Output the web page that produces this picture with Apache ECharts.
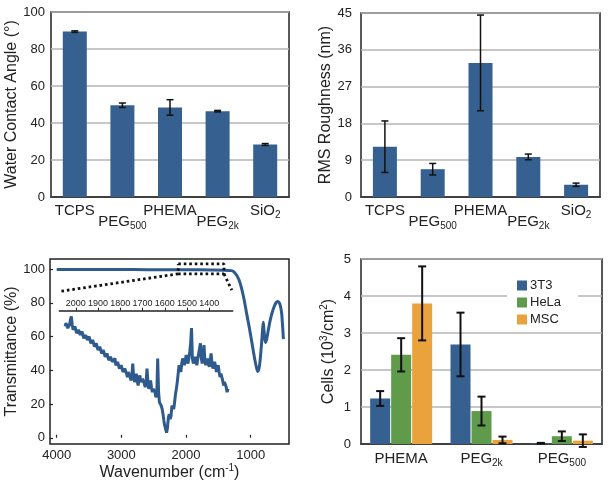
<!DOCTYPE html>
<html>
<head>
<meta charset="utf-8">
<script src="https://cdn.jsdelivr.net/npm/echarts@6/dist/echarts.min.js"></script>
<style>
html,body{margin:0;padding:0;background:#fff;}
#c{width:609px;height:488px;}
</style>
</head>
<body>
<div id="c"></div>
<script>
// ---------- DATA ----------
const surfaceCats = ['TCPS', 'PEG_500', 'PHEMA', 'PEG_2k', 'SiO_2'];
const contactAngle = [89.4, 49.6, 48.4, 46.4, 28.4];
const contactAngleErr = [0.4, 1.2, 4.2, 0.4, 0.5];
const roughness = [12.3, 6.8, 32.8, 9.8, 3.0];
const roughnessErr = [6.3, 1.4, 11.7, 0.7, 0.4];

const angleTicks = [0, 20, 40, 60, 80, 100];
const roughTicks = [0, 9, 18, 27, 36, 45];

const ftirWavenumber = [4000, 3600, 3200, 2800, 2400, 2000, 1600, 1400, 1300, 1260, 1220, 1180, 1140, 1100, 1060, 1020, 980, 940, 910, 892, 875, 860, 845, 830, 815, 805, 795, 782, 768, 750, 725, 700, 670, 640, 610, 585, 560, 540, 522, 510, 500, 495];
const ftirTransmittance = [99.8, 99.8, 99.7, 99.7, 99.6, 99.6, 99.5, 99.4, 99.1, 98.4, 96.5, 93.5, 88.5, 81.5, 73, 65, 56, 47, 41.5, 39.3, 40.5, 44, 50, 57, 65, 68.5, 64, 58.5, 56.5, 59, 64.5, 69.5, 74, 77.5, 80, 80.8, 80.2, 78, 74, 68, 62, 58.5];

const insetWavenumber = [2048, 2044, 2040, 2036, 2032, 2028, 2024, 2020, 2016, 2012, 2008, 2004, 2000, 1996, 1992, 1988, 1984, 1980, 1976, 1972, 1968, 1964, 1960, 1956, 1952, 1948, 1944, 1940, 1936, 1932, 1928, 1924, 1920, 1916, 1912, 1908, 1904, 1900, 1896, 1892, 1888, 1884, 1880, 1876, 1872, 1868, 1864, 1860, 1856, 1852, 1848, 1844, 1840, 1836, 1832, 1828, 1824, 1820, 1816, 1812, 1808, 1804, 1800, 1796, 1792, 1788, 1784, 1780, 1776, 1772, 1768, 1764, 1760, 1756, 1752, 1748, 1744, 1740, 1736, 1732, 1728, 1724, 1720, 1716, 1712, 1708, 1704, 1700, 1696, 1692, 1688, 1684, 1680, 1676, 1672, 1668, 1664, 1660, 1656, 1652, 1648, 1644, 1640, 1636, 1632, 1628, 1624, 1620, 1616, 1612, 1608, 1604, 1600, 1596, 1592, 1588, 1584, 1580, 1576, 1572, 1568, 1564, 1560, 1556, 1552, 1548, 1544, 1540, 1536, 1532, 1528, 1524, 1520, 1516, 1512, 1508, 1504, 1500, 1496, 1492, 1488, 1484, 1480, 1476, 1472, 1468, 1464, 1460, 1456, 1452, 1448, 1444, 1440, 1436, 1432, 1428, 1424, 1420, 1416, 1412, 1408, 1404, 1400, 1396, 1392, 1388, 1384, 1380, 1376, 1372, 1368, 1364, 1360, 1356, 1352, 1348, 1344, 1340, 1336, 1332, 1328, 1324, 1320, 1316];
const insetTransmittance = [66, 68, 69, 65, 64, 67, 70, 72, 67, 64, 63, 66, 66, 62, 61, 64, 65, 61, 60, 63, 63, 59, 58, 61, 62, 58, 57, 60, 60, 56, 55, 58, 58, 54, 53, 56, 56, 52, 51, 54, 55, 50, 49, 52, 52, 48, 47, 50, 50, 46, 45, 48, 49, 45, 44, 46, 47, 43, 42, 45, 45, 41, 40, 43, 43, 39, 38, 41, 42, 38, 36, 39, 40, 36, 34, 37, 44, 36, 33, 35, 38, 34, 31, 34, 37, 33, 32, 35, 36, 32, 30, 33, 41, 33, 29, 31, 34, 30, 27, 29, 30, 27, 24, 26, 47, 27, 21, 22, 19, 17, 14, 10, 7, 5, 3, 6, 12, 14, 11, 13, 19, 18, 17, 21, 26, 29, 33, 38, 43, 41, 39, 44, 47, 45, 43, 46, 49, 46, 44, 47, 51, 56, 65, 47, 44, 46, 48, 45, 43, 47, 50, 49, 56, 47, 44, 47, 55, 46, 43, 45, 47, 44, 42, 46, 50, 44, 41, 43, 45, 42, 39, 41, 43, 39, 36, 38, 39, 34, 31, 33, 34, 30, 27, 29];

const zoomBoxWn = [2120, 1413, 1413, 2120, 2120];
const zoomBoxT = [103.1, 103.1, 97.2, 97.2, 103.1];
const leftGuideWn = [2120, 3950];
const leftGuideT = [97.2, 86.8];
const rightGuideWn = [1413, 1292];
const rightGuideT = [97.2, 87.5];

const ftirYTicks = [0, 20, 40, 60, 80, 100];
const ftirXTicks = [1000, 2000, 3000, 4000];
const insetTicks = [1400, 1500, 1600, 1700, 1800, 1900, 2000];

const cellCats = ['PHEMA', 'PEG_2k', 'PEG_500'];
const cellSeriesNames = ['3T3', 'HeLa', 'MSC'];
const cells3T3 = [1.23, 2.69, 0.02];
const cells3T3Err = [0.2, 0.86, 0.01];
const cellsHeLa = [2.41, 0.89, 0.21];
const cellsHeLaErr = [0.45, 0.39, 0.13];
const cellsMSC = [3.80, 0.11, 0.09];
const cellsMSCErr = [1.0, 0.09, 0.17];
const cellTicks = [0, 1, 2, 3, 4, 5];

// ---------- STYLE ----------
const FONT = 'Liberation Sans, Arial, Helvetica, sans-serif';
const TXT = '#222';
const BLUE = '#35608f';
const GREEN = '#5f9b4b';
const ORANGE = '#e9a23c';
const LINEBLUE = '#2f5a8e';
const GRIDC = '#b4b4b4';
const plain = v => String(v);

function errData(vals, errs) {
  return vals.map((v, i) => [i, v - errs[i], v + errs[i]]);
}
function errRender(offset, half, lw) {
  return function (params, api) {
    const x = api.value(0), lo = api.value(1), hi = api.value(2);
    const p1 = api.coord([x, hi]);
    const p2 = api.coord([x, lo]);
    const cx = p1[0] + offset;
    const st = { stroke: '#111', lineWidth: lw };
    return {
      type: 'group',
      children: [
        { type: 'line', shape: { x1: cx, y1: p1[1], x2: cx, y2: p2[1] }, style: st },
        { type: 'line', shape: { x1: cx - half, y1: p1[1], x2: cx + half, y2: p1[1] }, style: st },
        { type: 'line', shape: { x1: cx - half, y1: p2[1], x2: cx + half, y2: p2[1] }, style: st }
      ]
    };
  };
}
function catFmt(staggered) {
  return function (v, i) {
    const p = v.split('_');
    const s = '{m|' + p[0] + '}' + (p[1] ? '{s|' + p[1] + '}' : '');
    return (staggered && i % 2 === 1) ? '{e| }\n' + s : s;
  };
}
const catRich = {
  m: { fontSize: 15, lineHeight: 11, color: TXT, fontFamily: FONT },
  s: { fontSize: 10, lineHeight: 11, color: TXT, fontFamily: FONT, padding: [9, 0, 0, 0] },
  e: { fontSize: 10, lineHeight: 11 }
};
const catRichD = {
  m: { fontSize: 15, lineHeight: 15, color: TXT, fontFamily: FONT },
  s: { fontSize: 10, lineHeight: 15, color: TXT, fontFamily: FONT, padding: [9, 0, 0, 0] }
};
const supRich = {
  a: { fontSize: 16, color: TXT, fontFamily: FONT, lineHeight: 16 },
  sup: { fontSize: 10, color: TXT, fontFamily: FONT, lineHeight: 16, padding: [0, 0, 9, 0] }
};
const frame = { show: true, borderColor: '#222', borderWidth: 1.5, backgroundColor: 'transparent' };

function catX(grid, cats, staggered, rich, margin) {
  return {
    type: 'category', gridIndex: grid, data: cats,
    axisLine: { show: true, lineStyle: { color: '#222', width: 1.5 } },
    axisTick: { show: false },
    axisLabel: { interval: 0, margin: margin, formatter: catFmt(staggered), rich: rich, lineHeight: 11 },
    splitLine: { show: false }
  };
}
function valY(grid, ticks, name, gap, labelMargin, nameRich) {
  return {
    type: 'value', gridIndex: grid,
    min: ticks[0], max: ticks[ticks.length - 1], interval: ticks[1] - ticks[0],
    axisLine: { show: false }, axisTick: { show: false },
    axisLabel: { color: TXT, fontSize: 13, fontFamily: FONT, margin: labelMargin, formatter: plain },
    splitLine: { show: true, lineStyle: { color: GRIDC, width: 1.5 } },
    name: name, nameLocation: 'middle', nameGap: gap,
    nameTextStyle: nameRich ? { rich: supRich, color: TXT, fontSize: 16, fontFamily: FONT } : { color: TXT, fontSize: 16, fontFamily: FONT }
  };
}
const dotted = { color: '#111', width: 2.8, type: [2.6, 2.9] };

const option = {
  animation: false,
  backgroundColor: '#fff',
  textStyle: { fontFamily: FONT },
  grid: [
    Object.assign({ left: 51, top: 12, width: 238, height: 185 }, frame),
    Object.assign({ left: 361, top: 13, width: 239, height: 184 }, frame),
    Object.assign({ left: 50, top: 259, width: 239, height: 185 }, frame),
    { left: 59.3, top: 310.7, width: 173.4, height: 127.06, show: false },
    Object.assign({ left: 361, top: 259, width: 241, height: 185 }, frame)
  ],
  xAxis: [
    catX(0, surfaceCats, true, catRich, 8),
    catX(1, surfaceCats, true, catRich, 8),
    {
      type: 'value', gridIndex: 2, min: 408, max: 4103, inverse: true,
      axisLine: { show: false },
      axisTick: { show: true, inside: true, length: 3, customValues: ftirXTicks, lineStyle: { color: '#222', width: 1.2 } },
      axisLabel: { customValues: ftirXTicks, color: TXT, fontSize: 13, fontFamily: FONT, margin: 5, formatter: plain },
      splitLine: { show: false },
      name: '{a|Wavenumber (cm}{sup|-1}{a|)}', nameLocation: 'middle', nameGap: 18,
      nameTextStyle: { rich: supRich, color: TXT, fontSize: 16, fontFamily: FONT }
    },
    {
      type: 'value', gridIndex: 3, min: 1295, max: 2074, inverse: true, position: 'top',
      axisLine: { show: true, onZero: false, lineStyle: { color: '#222', width: 1.5 } },
      axisTick: { show: true, length: 3, customValues: insetTicks, lineStyle: { color: '#222', width: 1 } },
      axisLabel: { customValues: insetTicks, color: TXT, fontSize: 9, fontFamily: FONT, margin: 3, formatter: plain },
      splitLine: { show: false }
    },
    catX(4, cellCats, false, catRichD, 7)
  ],
  yAxis: [
    valY(0, angleTicks, 'Water Contact Angle (°)', 28, 6, false),
    valY(1, roughTicks, 'RMS Roughness (nm)', 21, 9, false),
    {
      type: 'value', gridIndex: 2, min: -3.7, max: 106,
      axisLine: { show: false },
      axisTick: { show: true, inside: true, length: 3, customValues: ftirYTicks, lineStyle: { color: '#222', width: 1.2 } },
      axisLabel: { customValues: ftirYTicks, color: TXT, fontSize: 13, fontFamily: FONT, margin: 5, formatter: plain },
      splitLine: { show: false },
      name: 'Transmittance (%)', nameLocation: 'middle', nameGap: 25,
      nameTextStyle: { color: TXT, fontSize: 16, fontFamily: FONT }
    },
    { type: 'value', gridIndex: 3, min: 0, max: 75.34, show: false },
    valY(4, cellTicks, '{a|Cells (10}{sup|3}{a|/cm}{sup|2}{a|)}', 24, 10, true)
  ],
  legend: {
    data: cellSeriesNames,
    orient: 'vertical', left: 507, top: 276,
    itemWidth: 10, itemHeight: 10, itemGap: 4, icon: 'rect',
    backgroundColor: '#fff', padding: [3, 17, 3, 10],
    textStyle: { color: TXT, fontSize: 13, fontFamily: FONT, padding: [0, 0, 0, -2] }
  },
  series: [
    { type: 'bar', xAxisIndex: 0, yAxisIndex: 0, data: contactAngle, barWidth: 24, itemStyle: { color: BLUE } },
    { type: 'custom', xAxisIndex: 0, yAxisIndex: 0, data: errData(contactAngle, contactAngleErr), renderItem: errRender(0, 3.5, 1.5), encode: { x: 0, y: [1, 2] }, z: 5 },
    { type: 'bar', xAxisIndex: 1, yAxisIndex: 1, data: roughness, barWidth: 24, itemStyle: { color: BLUE } },
    { type: 'custom', xAxisIndex: 1, yAxisIndex: 1, data: errData(roughness, roughnessErr), renderItem: errRender(0, 3.5, 1.5), encode: { x: 0, y: [1, 2] }, z: 5 },

    { type: 'line', xAxisIndex: 2, yAxisIndex: 2, data: ftirWavenumber.map((w, i) => [w, ftirTransmittance[i]]), smooth: 0.25, showSymbol: false, symbol: 'none', lineStyle: { color: LINEBLUE, width: 3 }, clip: false, z: 3 },
    { type: 'line', xAxisIndex: 3, yAxisIndex: 3, data: insetWavenumber.map((w, i) => [w, insetTransmittance[i]]), showSymbol: false, symbol: 'none', lineStyle: { color: LINEBLUE, width: 3 }, clip: false, z: 3 },
    { type: 'line', xAxisIndex: 2, yAxisIndex: 2, data: zoomBoxWn.map((w, i) => [w, zoomBoxT[i]]), showSymbol: false, symbol: 'none', lineStyle: dotted, clip: false, z: 4 },
    { type: 'line', xAxisIndex: 2, yAxisIndex: 2, data: leftGuideWn.map((w, i) => [w, leftGuideT[i]]), showSymbol: false, symbol: 'none', lineStyle: dotted, clip: false, z: 4 },
    { type: 'line', xAxisIndex: 2, yAxisIndex: 2, data: rightGuideWn.map((w, i) => [w, rightGuideT[i]]), showSymbol: false, symbol: 'none', lineStyle: dotted, clip: false, z: 4 },

    { name: '3T3', type: 'bar', xAxisIndex: 4, yAxisIndex: 4, data: cells3T3, barWidth: 20, barGap: '5%', itemStyle: { color: BLUE } },
    { name: 'HeLa', type: 'bar', xAxisIndex: 4, yAxisIndex: 4, data: cellsHeLa, barWidth: 20, barGap: '5%', itemStyle: { color: GREEN } },
    { name: 'MSC', type: 'bar', xAxisIndex: 4, yAxisIndex: 4, data: cellsMSC, barWidth: 20, barGap: '5%', itemStyle: { color: ORANGE } },
    { type: 'custom', xAxisIndex: 4, yAxisIndex: 4, data: errData(cells3T3, cells3T3Err), renderItem: errRender(-21, 4, 2), encode: { x: 0, y: [1, 2] }, z: 5 },
    { type: 'custom', xAxisIndex: 4, yAxisIndex: 4, data: errData(cellsHeLa, cellsHeLaErr), renderItem: errRender(0, 4, 2), encode: { x: 0, y: [1, 2] }, z: 5 },
    { type: 'custom', xAxisIndex: 4, yAxisIndex: 4, data: errData(cellsMSC, cellsMSCErr), renderItem: errRender(21, 4, 2), encode: { x: 0, y: [1, 2] }, z: 5 }
  ]
};
const chart = echarts.init(document.getElementById('c'), null, { renderer: 'canvas' });
chart.setOption(option);
</script>
</body>
</html>
